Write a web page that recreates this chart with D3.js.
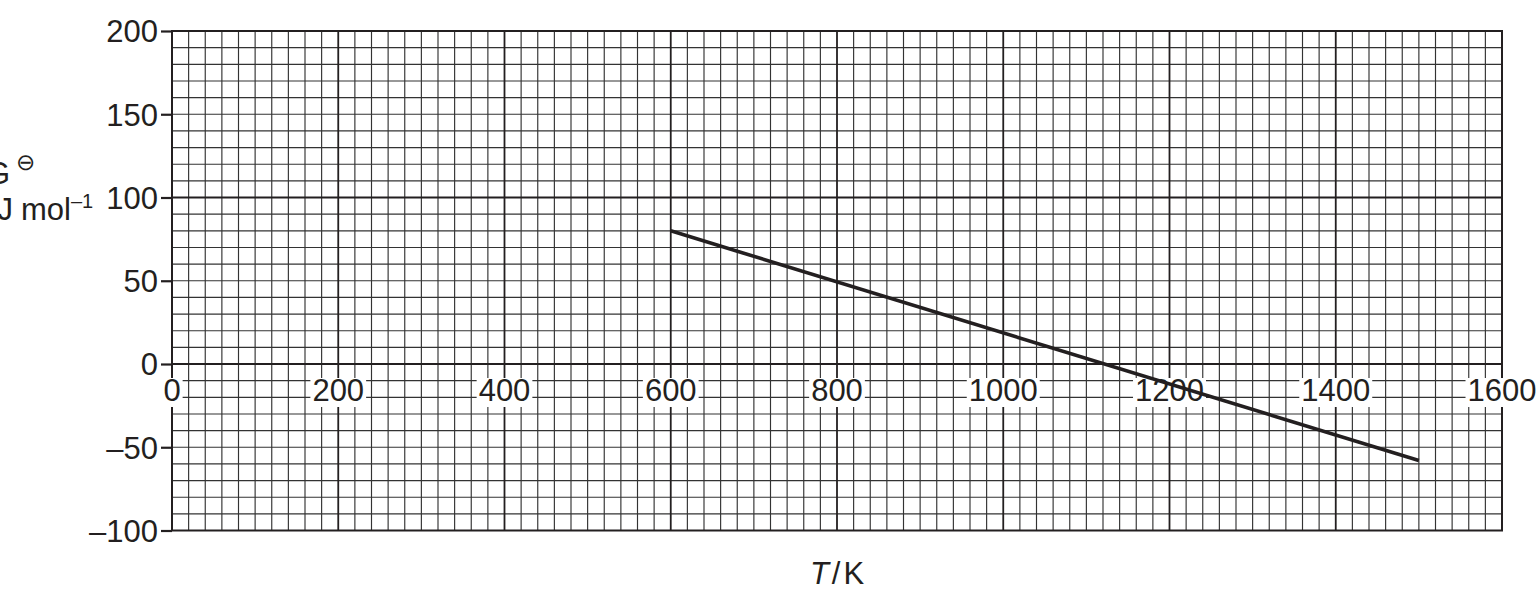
<!DOCTYPE html>
<html>
<head>
<meta charset="utf-8">
<script src="https://cdn.jsdelivr.net/npm/d3@7"></script>
<style>
  body { margin: 0; background: #fff; }
  svg text { font-family: "Liberation Sans", Arial, sans-serif; fill: #231f20; }
</style>
</head>
<body>
<div id="chart"></div>
<script>
// values
const temps = [600, 1500];              // T / K
const deltaG = [80, -58];               // kJ mol-1
const xTicks = [0, 200, 400, 600, 800, 1000, 1200, 1400, 1600];
const yTicks = [-100, -50, 0, 50, 100, 150, 200];
const yTickLabels = ['–100', '–50', '0', '50', '100', '150', '200'];

const width = 1540, height = 590
    , margin = {top: 31, right: 38, bottom: 59.5, left: 172}
    , cw = width - margin.left - margin.right
    , ch = height - margin.top - margin.bottom;

let x = d3.scaleLinear().domain([0, 1600]).range([0, cw])
  , y = d3.scaleLinear().domain([-100, 200]).range([ch, 0]);

let svg = d3.select('#chart').append('svg')
    .attr('width', width).attr('height', height);

let g = svg.append('g').attr('transform', `translate(${margin.left},${margin.top})`);

// graph paper: minor every 20 K / 10 units, major every 200 K / 100 units
let xMinor = d3.range(20, 1600, 20)
  , yMinor = d3.range(-90, 200, 10);

g.append('g').attr('class', 'grid-minor')
  .selectAll('line.v').data(xMinor.filter(d => d % 200 !== 0))
  .join('line').attr('class', 'v')
  .attr('x1', d => x(d)).attr('x2', d => x(d))
  .attr('y1', 0).attr('y2', ch)
  .attr('stroke', '#333').attr('stroke-width', 1.15);

g.select('g.grid-minor')
  .selectAll('line.h').data(yMinor.filter(d => d % 100 !== 0))
  .join('line').attr('class', 'h')
  .attr('y1', d => y(d)).attr('y2', d => y(d))
  .attr('x1', 0).attr('x2', cw)
  .attr('stroke', '#333').attr('stroke-width', 1.15);

let major = g.append('g').attr('class', 'grid-major');
major.selectAll('line.v').data(xMinor.filter(d => d % 200 === 0))
  .join('line').attr('class', 'v')
  .attr('x1', d => x(d)).attr('x2', d => x(d))
  .attr('y1', 0).attr('y2', ch)
  .attr('stroke', '#231f20').attr('stroke-width', 1.8);
major.selectAll('line.h').data(yMinor.filter(d => d % 100 === 0))
  .join('line').attr('class', 'h')
  .attr('y1', d => y(d)).attr('y2', d => y(d))
  .attr('x1', 0).attr('x2', cw)
  .attr('stroke', '#231f20').attr('stroke-width', 1.8);

// frame
g.append('rect')
  .attr('width', cw).attr('height', ch)
  .attr('fill', 'none').attr('stroke', '#231f20').attr('stroke-width', 2);

// y axis ticks + labels
let yAxis = d3.axisLeft(y).tickValues(yTicks)
  .tickSize(11).tickPadding(3)
  .tickFormat((d, i) => yTickLabels[i]);

g.append('g').attr('class', 'y-axis').call(yAxis)
  .call(s => s.select('.domain').remove())
  .call(s => s.selectAll('line').attr('stroke', '#231f20').attr('stroke-width', 2.2))
  .call(s => s.selectAll('text')
      .attr('font-size', 31).attr('dy', '0.35em')
      .attr('font-family', '"Liberation Sans", Arial, sans-serif').attr('fill', '#231f20'));

// x labels sit on the zero line, knocked out of the grid
let xl = g.append('g').attr('class', 'x-labels')
  .selectAll('g').data(xTicks)
  .join('g').attr('transform', d => `translate(${x(d)},${y(0) + 37})`);

xl.each(function(d) {
  let t = d3.select(this).append('text')
    .attr('text-anchor', 'middle')
    .attr('font-size', 31)
    .text(d)
  , bb = t.node().getBBox();
  d3.select(this).insert('rect', 'text')
    .attr('x', bb.x - 2).attr('y', bb.y + 5)
    .attr('width', bb.width + 4).attr('height', bb.height - 6)
    .attr('fill', '#fff');
});

// the data line
let line = d3.line().x(d => x(d[0])).y(d => y(d[1]));
g.append('path')
  .datum(temps.map((t, i) => [t, deltaG[i]]))
  .attr('d', line)
  .attr('fill', 'none').attr('stroke', '#231f20').attr('stroke-width', 3.6);

// axis titles
let xt = svg.append('text')
  .attr('x', margin.left + cw / 2).attr('y', 584)
  .attr('text-anchor', 'middle').attr('font-size', 31);
xt.append('tspan').attr('font-style', 'italic').text('T');
xt.append('tspan').attr('dx', 3).text('/');
xt.append('tspan').attr('dx', 3).text('K');

// y title runs off the left edge, as in the reference
svg.append('text')
  .attr('x', 10).attr('y', 184)
  .attr('text-anchor', 'end').attr('font-size', 31)
  .text('ΔG');
svg.append('text')
  .attr('x', 16).attr('y', 170)
  .attr('font-size', 23)
  .attr('font-family', '"DejaVu Sans", sans-serif')
  .text('⊖');

svg.append('text')
  .attr('x', 13).attr('y', 220)
  .attr('text-anchor', 'end').attr('font-size', 31)
  .text('/ kJ');
let yt2 = svg.append('text')
  .attr('x', 21).attr('y', 220)
  .attr('font-size', 31);
yt2.append('tspan').text('mol');
yt2.append('tspan').attr('font-size', 20).attr('dy', -12).text('–1');
</script>
</body>
</html>
